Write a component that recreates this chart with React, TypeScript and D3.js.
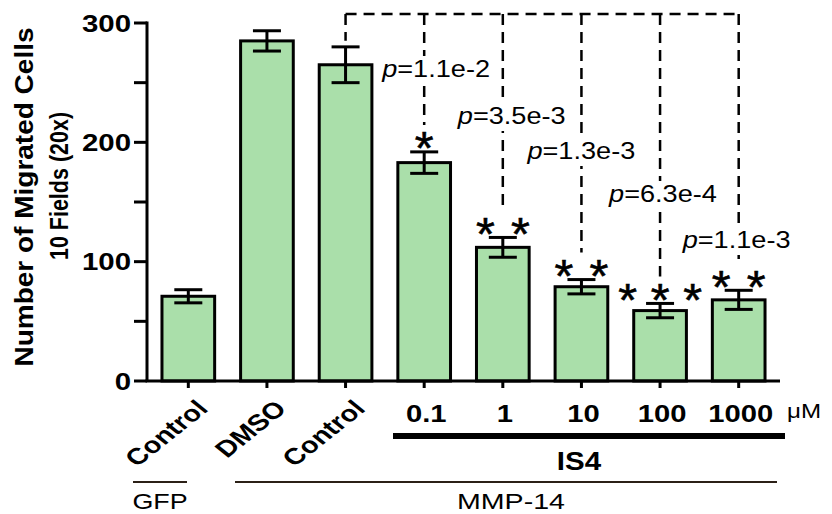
import React from 'react';
import * as d3 from 'd3';

// bar groups, left to right
const groups = ['GFP Control', 'MMP-14 DMSO', 'MMP-14 Control', 'IS4 0.1', 'IS4 1', 'IS4 10', 'IS4 100', 'IS4 1000'];
const xLabels = ['Control', 'DMSO', 'Control', '0.1', '1', '10', '100', '1000'];
const means = [71, 285, 265, 183, 112, 79, 59, 68];
const errors = [5.5, 8.5, 15, 9, 8.3, 6, 6, 8];
const stars = ['', '', '', '*', '**', '**', '***', '**'];
const pValues = ['', '', '', '1.1e-2', '3.5e-3', '1.3e-3', '6.3e-4', '1.1e-3'];
const yTicks = [0, 100, 200, 300];
const yMinorTicks = [50, 150, 250];

const W = 832;
const H = 514;
const FONT = '"Liberation Sans", Arial, Helvetica, sans-serif';
const SX = 1.25; // the figure is stretched sideways

// label placement for the p-values (baseline y, x offset from bar centre)
const pLabelY = [0, 0, 0, 77, 124, 159, 202, 248];
const pLabelDx = [0, 0, 0, -42, -45, -54, -51, -56];

// affine matrix: stretch sx along text direction, rotate by rot degrees, then stretch page x by px
const tm = (x: number, y: number, sx: number, rot: number, px = 1) => {
  const r = (rot * Math.PI) / 180;
  const c = Math.cos(r);
  const s = Math.sin(r);
  return `matrix(${px * c * sx},${s * sx},${-px * s},${c},${x},${y})`;
};

const Wide = ({ x, y, sx = SX, rot = 0, px = 1, anchor = 'middle', children, ...rest }: any) => (
  <text transform={tm(x, y, sx, rot, px)} textAnchor={anchor} fontFamily={FONT} {...rest}>
    {children}
  </text>
);

export default function App() {
  const x = d3.scaleBand<string>().domain(groups).range([149, 778]).paddingInner(0.33).paddingOuter(0.165);
  const y = d3.scaleLinear().domain([0, 300]).range([381, 23]);
  const bw = x.bandwidth();
  const cx = (i: number) => (x(groups[i]) as number) + bw / 2;
  const axisX = 147;
  const capW = 28;
  const dashTop = 14;
  const ref = 2; // the MMP-14 control every IS4 dose is compared against

  const starTop = (i: number) => y(means[i] + errors[i]) - 21;

  return (
    <svg width={W} height={H} style={{ position: 'absolute', left: 0, top: 0, background: '#fff' }}>
      {/* dashed comparison brackets */}
      <g stroke="#000" strokeWidth={2.5} strokeDasharray="11,7" fill="none">
        <line x1={cx(ref)} x2={cx(groups.length - 1)} y1={dashTop} y2={dashTop} />
        <line x1={cx(ref)} x2={cx(ref)} y1={dashTop} y2={y(means[ref] + errors[ref]) - 6} />
        {groups.map((g, i) =>
          pValues[i] ? <line key={g} x1={cx(i)} x2={cx(i)} y1={dashTop} y2={starTop(i) - 6} /> : null
        )}
      </g>

      {/* p-value labels */}
      {groups.map((g, i) => {
        if (!pValues[i]) return null;
        const lx = cx(i) + pLabelDx[i];
        const ly = pLabelY[i];
        return (
          <g key={g}>
            <rect x={lx - 2} y={ly - 21} width={110} height={28} fill="#fff" />
            <Wide x={lx} y={ly} sx={1.18} anchor="start" fontSize={23}>
              <tspan fontStyle="italic">p</tspan>={pValues[i]}
            </Wide>
          </g>
        );
      })}

      {/* bars */}
      {groups.map((g, i) => (
        <rect
          key={g}
          x={x(g)}
          y={y(means[i])}
          width={bw}
          height={y(0) - y(means[i])}
          fill="#aadfaa"
          stroke="#000"
          strokeWidth={3}
        />
      ))}

      {/* error bars */}
      <g stroke="#000" strokeWidth={3}>
        {groups.map((g, i) => {
          const c = cx(i);
          const hi = y(means[i] + errors[i]);
          const lo = y(means[i] - errors[i]);
          return (
            <g key={g}>
              <line x1={c} x2={c} y1={hi} y2={lo} />
              <line x1={c - capW / 2} x2={c + capW / 2} y1={hi} y2={hi} />
              <line x1={c - capW / 2} x2={c + capW / 2} y1={lo} y2={lo} />
            </g>
          );
        })}
      </g>

      {/* significance stars */}
      {groups.map((g, i) => {
        const n = stars[i].length;
        if (!n) return null;
        const sp = n === 3 ? 32.5 : 35;
        return stars[i].split('').map((s, k) => (
          <Wide
            key={g + k}
            x={cx(i) + (k - (n - 1) / 2) * sp}
            y={starTop(i) + 33.5}
            sx={1.05}
            fontSize={46}
            stroke="#000"
            strokeWidth={0.6}
          >
            {s}
          </Wide>
        ));
      })}

      {/* y axis */}
      <g stroke="#000" strokeWidth={3}>
        <line x1={axisX} x2={axisX} y1={y(300) - 1.5} y2={y(0)} />
        {yTicks.concat(yMinorTicks).map((t) => (
          <line key={t} x1={axisX - 13} x2={axisX} y1={y(t)} y2={y(t)} />
        ))}
      </g>
      {yTicks.map((t) => (
        <Wide key={t} x={131} y={y(t) + 8.5} anchor="end" sx={1.28} fontSize={23} fontWeight="bold">
          {t}
        </Wide>
      ))}
      <Wide x={33} y={197} rot={-90} sx={1.12} fontSize={25} fontWeight="bold">
        Number of Migrated Cells
      </Wide>
      <Wide x={68} y={186} rot={-90} sx={0.86} fontSize={25} fontWeight="bold">
        10 Fields (20x)
      </Wide>

      {/* x axis */}
      <g stroke="#000" strokeWidth={3}>
        <line x1={axisX - 1.5} x2={780} y1={y(0)} y2={y(0)} />
        {groups.map((g, i) => (
          <line key={g} x1={cx(i)} x2={cx(i)} y1={y(0)} y2={y(0) + 7} />
        ))}
      </g>
      {groups.map((g, i) =>
        i < 3 ? (
          <Wide
            key={g}
            x={cx(i) + 21}
            y={410}
            rot={-45}
            sx={1}
            px={SX}
            anchor="end"
            fontSize={23}
            fontWeight="bold"
          >
            {xLabels[i]}
          </Wide>
        ) : (
          <Wide key={g} x={cx(i) + 2} y={421.5} sx={1.27} fontSize={23} fontWeight="bold">
            {xLabels[i]}
          </Wide>
        )
      )}
      <Wide x={787} y={418} anchor="start" sx={1.15} fontSize={21}>
        μM
      </Wide>

      {/* group brackets */}
      <line x1={393} x2={785} y1={436} y2={436} stroke="#000" strokeWidth={6} />
      <Wide x={579} y={470} fontSize={25} fontWeight="bold" sx={1.18}>
        IS4
      </Wide>
      <g stroke="#2b2016" strokeWidth={2}>
        <line x1={133} x2={187} y1={482} y2={482} />
        <line x1={235} x2={777} y1={482} y2={482} />
      </g>
      <Wide x={160} y={508.5} fontSize={21.5} sx={1.25}>
        GFP
      </Wide>
      <Wide x={511} y={508.5} fontSize={21.5} sx={1.33}>
        MMP-14
      </Wide>
    </svg>
  );
}
